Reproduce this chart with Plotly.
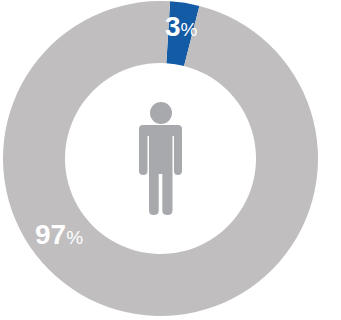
import plotly.graph_objects as go

# Share of people in each group, in percent
groups = ["Highlighted", "Other"]
shares = [3, 97]
colors = ["#145ba5", "#c0bebf"]

W, H = 341, 320
CX, CY, R, R_IN = 160.5, 158.5, 157.5, 95.5
ICON = "#a8a9ad"


def px(x):
    return x / W


def py(y):
    return 1 - y / H


def path(points):
    """Build an SVG path in paper units from (command, x, y, ...) tuples in pixels."""
    parts = []
    for p in points:
        cmd, vals = p[0], p[1:]
        coords = [f"{px(vals[i]):.5f},{py(vals[i + 1]):.5f}" for i in range(0, len(vals), 2)]
        parts.append(cmd + " " + " ".join(coords))
    return " ".join(parts) + " Z"


# Standing figure: shoulders and arms joined to the torso, then two legs
body = path([
    ("M", 143, 125), ("L", 178, 125), ("Q", 182, 125, 182, 129),
    ("L", 182, 171), ("Q", 182, 175, 177.8, 175), ("Q", 174, 175, 174, 171),
    ("L", 174, 136), ("L", 172.5, 136),
    ("L", 172.5, 210.5), ("Q", 172.5, 215, 167.3, 215), ("Q", 162.3, 215, 162.3, 210.5),
    ("L", 162.3, 174), ("L", 158.7, 174),
    ("L", 158.7, 210.5), ("Q", 158.7, 215, 153.8, 215), ("Q", 149, 215, 149, 210.5),
    ("L", 149, 136), ("L", 147.5, 136),
    ("L", 147.5, 171), ("Q", 147.5, 175, 143.2, 175), ("Q", 139, 175, 139, 171),
    ("L", 139, 129), ("Q", 139, 125, 143, 125),
])

fig = go.Figure(go.Pie(
    labels=groups,
    values=shares,
    hole=R_IN / R,
    sort=False,
    direction="clockwise",
    rotation=3.5,
    textinfo="none",
    hoverinfo="label+percent",
    showlegend=False,
    marker=dict(colors=colors, line=dict(width=0)),
    domain=dict(x=[px(CX - R), px(CX + R)], y=[py(CY + R), py(CY - R)]),
))


def value_label(value, x, y):
    return dict(
        text=f"<b>{value}</b><span style='font-size:19px'>%</span>",
        x=px(x), y=py(y), xref="paper", yref="paper",
        xanchor="center", yanchor="middle", showarrow=False,
        font=dict(family="Liberation Sans", size=28, color="white"),
    )


fig.update_layout(
    width=W, height=H,
    margin=dict(l=0, r=0, t=0, b=0),
    paper_bgcolor="white",
    annotations=[value_label(shares[0], 181.5, 27), value_label(shares[1], 59, 234)],
    shapes=[
        dict(type="circle", xref="paper", yref="paper", fillcolor=ICON, line_width=0,
             x0=px(150), x1=px(172), y0=py(124), y1=py(102)),
        dict(type="path", xref="paper", yref="paper", path=body, fillcolor=ICON, line_width=0),
    ],
)

fig.write_html("out.html")
